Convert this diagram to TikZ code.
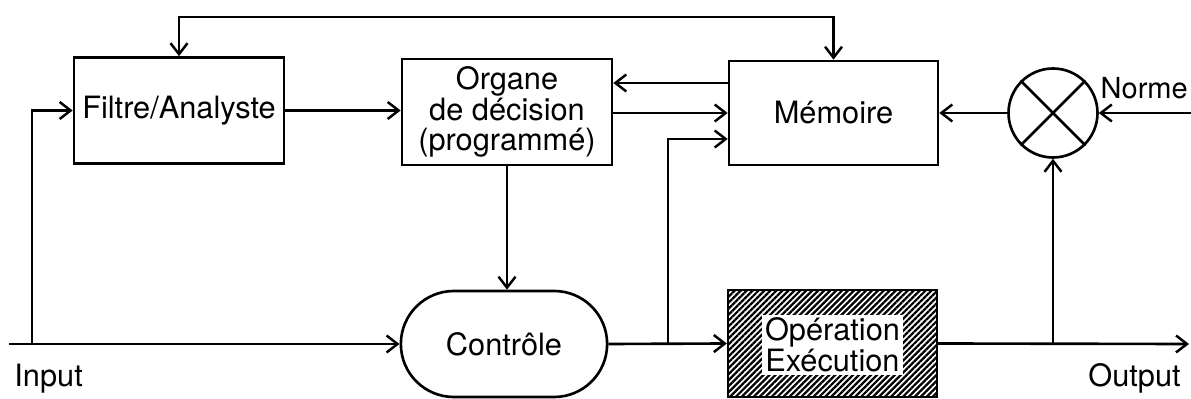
\documentclass[tikz,border=0pt]{standalone}
\usepackage{fontspec}
\setmainfont{TeX Gyre Heros}
\usetikzlibrary{arrows.meta,calc,positioning,shapes.misc,patterns.meta}

\begin{document}
\begin{tikzpicture}[
  >={Straight Barb[length=2.2mm,width=3.4mm,line width=1.4pt]},
  font=\fontsize{17.5}{17.5}\selectfont,
  line width=1.5pt,
  block/.style={draw, rectangle, align=center, minimum width=4.2cm, minimum height=2.12cm, inner sep=1pt},
  ctrl/.style={draw, rounded rectangle, minimum width=4.36cm, minimum height=2.12cm},
  hatched/.style={draw, rectangle, minimum width=4.18cm, minimum height=2.14cm,
    pattern={Lines[angle=45,distance=2.4pt,line width=1.3pt]}},
  mixer/.style={draw, circle, minimum size=1.78cm, inner sep=0pt},
  arrow/.style={->},
  signal/.style={inner sep=0pt}
]
\useasboundingbox (0,0) rectangle (23.82,-7.98);

% upper row
\node[block] (filtre) at (3.58,-2.21) {Filtre/Analyste};
\node[block] (organe) at (10.14,-2.24) {Organe\\de décision\\(programmé)};
\node[block, minimum width=4.18cm, minimum height=2.08cm] (memoire) at (16.67,-2.26) {Mémoire};
\node[mixer] (mult) at (21.06,-2.26) {};
\draw (mult.north west) -- (mult.south east);
\draw (mult.north east) -- (mult.south west);

% lower row
\node[ctrl] (controle) at (10.08,-6.88) {Contrôle};
\node[hatched] (oper) at (16.65,-6.87) {};
\node[fill=white, align=center, inner sep=1.5pt] (operlabel) at (16.65,-6.9) {Opération\\Exécution};

% signal labels
\node[signal, anchor=base west] (inputlabel) at (0.26,-7.74) {Input};
\node[signal, anchor=base east] (outputlabel) at (23.64,-7.74) {Output};
\node[signal, anchor=base east, font=\fontsize{16.5}{17}\selectfont] (normelabel) at (23.78,-1.98) {Norme};

% helper points
\coordinate (inputstart) at (0.18,-6.88);
\coordinate (inputsplit) at (0.64,-6.88);
\coordinate (ctlsplit) at (13.36,-6.88);
\coordinate (outputend) at (23.78,-6.88);
\coordinate (normein) at (23.82,-2.26);
\coordinate (topline) at (0,-0.34);
\coordinate (memhigh) at ($(memoire.west)+(0,0.6)$);
\coordinate (memlow) at ($(memoire.west)+(0,-0.52)$);
\coordinate (outsplit) at (mult.south |- oper.east);

% main path
\draw[arrow] (inputstart) -- (controle.west);
\draw[arrow] (inputsplit) |- (filtre.west);
\draw[arrow] (controle.east) -- (oper.west);
\draw[arrow] (oper.east) -- (outputend);

% feedback and memory links
\draw[<->] (filtre.north) -- (filtre.north |- topline) -- (memoire.north |- topline) -- (memoire.north);
\draw[arrow] (filtre.east) -- (filtre.east -| organe.west);
\draw[arrow] (organe.south) -- (organe.south |- controle.north);
\draw[arrow] (memhigh) -- (memhigh -| organe.east);
\draw[arrow] (organe.east |- memoire.west) -- (memoire.west);
\draw[arrow] (ctlsplit) |- (memlow);
\draw[arrow] (mult.west) -- (memoire.east);
\draw[arrow] (normein) -- (mult.east);
\draw[arrow] (outsplit) -- (mult.south);
\end{tikzpicture}
\end{document}
